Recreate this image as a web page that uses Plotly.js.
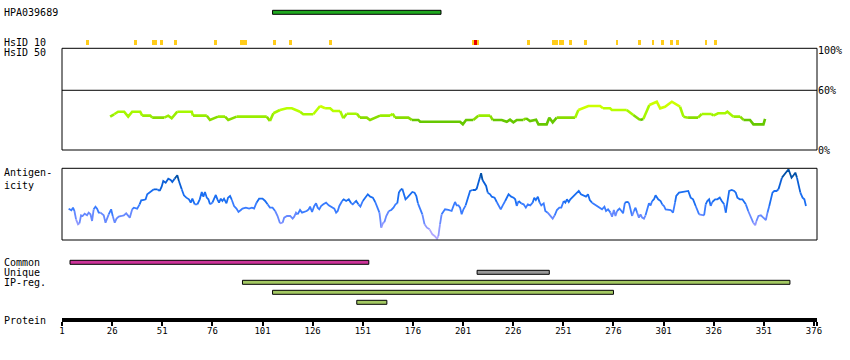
<!DOCTYPE html>
<html>
<head>
<meta charset="utf-8">
<script src="https://cdn.plot.ly/plotly-3.0.1.min.js"></script>
<style>html,body{margin:0;padding:0;background:#fff;}#chart{width:850px;height:360px;}</style>
</head>
<body>
<div id="chart"></div>
<script>
// ---------------- DATA ----------------
const residueTicks = [1,26,51,76,101,126,151,176,201,226,251,276,301,326,351,376];
const proteinEnd = 377.5;

const hpaName = 'HPA039689';
const hpaStart = [106];
const hpaEnd = [190];

const commonStart = [5];
const commonEnd = [154];
const uniqueStart = [208];
const uniqueEnd = [244];
const ipregStart = [91, 106, 148];
const ipregEnd = [364, 276, 163];

// HsID 10 identity marks (residue spans)
const hsid10Start = [13.0,36.9,45.9,49.9,56.9,76.8,89.8,106.2,114.2,134.2,205.5,232.9,245.2,249.0,253.9,261.4,277.2,288.4,295.1,299.8,304.4,307.4,321.5,326.3];
const hsid10End   = [14.3,38.3,48.2,51.2,58.3,78.2,93.1,107.6,115.6,135.5,208.9,234.3,248.5,251.4,255.2,262.8,278.5,289.8,296.4,301.1,305.7,308.7,322.8,327.7];
const hsid10RedStart = [206.5];
const hsid10RedEnd = [207.9];

// HsID 50 identity (%)
const hsidRes = [25,27,29,32,34,36,40,41,45,46,52,54,55.7,58.5,65.7,66.3,73.2,74.8,78.8,82.3,83.9,88.1,103.1,104.7,106.4,109.7,113.1,115.6,119.7,121.3,126.3,129.7,132.2,134.7,136.2,139.7,141.3,143,148,149.6,153,154.6,159.6,164.6,165.9,167.1,173.7,175.4,178.7,179.6,194.5,199.5,200.9,202.5,206.1,208.6,214.5,215.8,220.3,222.8,224.4,226.1,227.8,231.1,232.4,234.4,237.4,238.6,242.7,244,245.7,247.7,256.9,258.5,263.5,269.3,270.8,274.3,275.2,282.6,285.9,289.3,290.9,293.9,297.6,299.3,301.7,305.1,309.2,310.9,313.2,318.2,320,325,325.8,328.2,331.7,332.8,335.8,339.2,340.8,344.1,345.8,350.8,351.6];
const hsidPct = [33.5,35.9,38.5,38.5,33.5,38.5,38.5,34.5,34.5,32.5,32.5,34.5,31.9,38.5,38.5,34.5,34.5,30.2,33.5,33.5,30.2,33.5,33.5,29.1,36.9,40.2,41.9,41.9,38.5,35.9,35.9,44.2,41.9,41.9,39.2,39.2,31.9,36.5,36.5,32.5,32.5,30.2,34.5,34.5,36.5,32.5,32.5,30.2,30.2,28.4,28.4,28.4,25.8,30.2,30.2,34.5,34.5,30.2,30.2,28.4,30.5,27.8,30.2,30.2,31.9,29.1,30.5,25.8,25.8,32.5,27.8,32.5,32.5,40.2,44.2,44.2,41.9,41.9,40.2,40.2,35.2,30.2,31.2,45.2,48.5,41.9,43.5,48.5,43.5,33.5,32.5,32.5,36.2,36.2,34.5,36.9,36.9,38.5,33.5,33.5,30.2,30.2,25.8,25.8,31.2];

// Antigenicity score (arbitrary units)
const antRes = [4.3,5.7,6.5,7.2,8.0,9.0,9.7,10.5,11.3,12.3,13.5,14.3,15.2,16.0,16.8,17.7,18.5,19.3,20.2,21.0,21.8,22.7,23.5,24.3,25.5,26.3,27.3,28.2,29.3,30.7,31.8,33.0,34.0,34.8,36.0,36.8,38.5,39.7,40.5,41.8,42.7,43.5,45.2,46.8,48.5,49.7,50.7,51.5,52.7,54.0,55.2,56.0,57.2,58.5,59.3,60.7,61.8,63.0,64.3,65.2,66.0,67.2,68.5,69.7,70.7,71.5,72.3,73.2,74.0,74.8,76.0,76.8,77.7,78.5,79.3,80.2,81.0,81.8,83.0,83.8,84.8,85.7,86.8,88.0,89.0,90.2,91.0,92.7,94.3,95.7,96.8,98.0,99.3,101.0,102.3,103.5,104.7,106.0,107.3,108.5,109.7,111.0,111.8,113.2,114.8,116.0,116.8,117.7,118.5,119.7,120.7,121.8,123.0,124.0,124.7,125.7,126.8,127.7,128.5,129.3,130.2,131.3,132.7,134.0,135.2,136.0,136.8,137.7,138.5,139.3,140.7,141.5,142.7,144.0,145.2,146.0,146.8,147.7,148.8,149.8,151.0,152.3,153.5,154.7,156.0,157.2,158.5,159.3,160.2,161.0,161.8,162.7,164.0,165.2,166.3,167.3,168.2,169.0,169.8,170.7,171.5,172.3,173.2,174.3,175.7,176.8,177.7,178.5,179.7,180.7,181.8,183.0,184.3,185.7,186.8,188.0,188.7,189.5,190.3,191.2,192.0,193.7,195.3,196.2,197.0,197.8,198.7,199.5,200.3,201.2,202.3,203.3,204.5,205.7,207.0,207.8,208.7,209.5,210.0,210.7,211.5,212.5,213.3,214.5,215.3,216.7,217.8,219.0,219.8,220.8,222.0,223.7,225.0,226.2,227.0,227.8,228.7,230.0,231.2,232.3,233.3,234.5,235.7,236.5,237.3,238.3,239.2,240.0,241.2,242.0,243.2,244.5,245.7,246.7,247.8,249.0,250.0,251.2,252.0,252.8,253.7,254.5,255.3,256.7,257.8,258.7,259.8,261.2,262.3,263.3,264.2,265.3,266.7,267.8,269.0,270.3,271.5,272.3,273.3,274.5,275.3,276.2,277.0,277.8,279.0,280.0,280.8,281.7,282.8,283.7,284.5,285.3,286.2,287.0,287.8,288.7,289.5,290.3,291.2,292.0,292.8,293.7,294.5,295.3,296.2,297.0,298.3,299.5,300.3,301.2,302.0,303.3,304.5,305.7,306.7,307.3,308.7,310.3,312.0,313.3,314.5,315.7,317.0,318.7,320.3,321.2,322.0,322.8,323.7,324.5,325.3,326.7,327.8,329.0,330.0,331.2,332.0,333.7,335.0,336.2,337.0,337.8,339.0,340.3,342.0,343.2,344.5,345.7,346.7,347.3,348.3,349.5,350.7,352.0,352.8,353.7,354.5,355.3,356.2,357.3,358.3,359.2,360.0,361.2,362.0,362.8,363.3,364.0,364.8,365.8,366.7,367.5,368.3,369.2,370.3,371.2,372.0];
const antVal = [94,89,97,87,62,47,50,74,72,79,74,82,77,57,92,100,94,82,82,77,74,52,67,77,92,72,52,64,70,72,74,80,72,67,92,97,94,107,119,120,122,137,144,152,152,147,160,177,172,184,180,174,184,194,177,152,134,127,122,112,124,107,107,122,144,130,144,127,122,107,112,122,135,122,112,124,117,124,110,127,132,120,102,94,84,90,94,97,94,97,94,112,124,124,117,107,97,97,87,72,50,52,67,72,72,64,70,82,77,90,82,84,87,92,100,84,102,110,97,92,102,107,112,104,100,97,94,82,87,102,117,122,117,122,110,107,112,117,107,100,117,127,137,130,127,114,97,82,37,50,54,72,87,90,97,107,110,142,150,154,134,122,127,134,144,142,132,110,90,77,47,37,32,17,12,4,12,47,77,87,92,90,87,102,114,104,104,97,77,92,104,122,147,150,150,154,172,190,200,180,170,162,142,137,130,127,114,102,92,104,117,137,130,127,122,102,117,110,107,97,107,104,112,127,120,130,112,104,110,87,82,74,64,74,90,97,97,117,112,122,114,122,127,134,140,147,137,132,130,137,120,112,107,102,97,92,100,87,92,82,70,90,72,87,94,87,80,112,114,112,92,72,87,97,82,67,77,67,64,74,92,110,104,117,122,134,122,117,107,102,92,92,90,82,112,132,142,144,147,147,127,122,102,77,74,74,107,117,122,102,114,122,122,127,117,107,82,147,150,147,142,127,122,122,107,87,67,52,44,57,72,74,67,60,82,102,122,142,147,147,152,172,187,197,204,210,212,200,187,194,202,187,167,142,127,122,102];

// ---------------- STYLE HELPERS ----------------
const FONT = 'DejaVu Sans Mono, monospace';
function hsidColor(p){
  if (p >= 42) return '#ccff00';
  if (p >= 39) return '#b8ff00';
  if (p >= 35.5) return '#a6f800';
  if (p >= 33) return '#99ee00';
  if (p >= 31) return '#88dd00';
  return '#66c800';
}
function antColor(v){
  if (v >= 185) return '#0050a8';
  if (v >= 150) return '#0a5fd8';
  if (v >= 112) return '#1a6ef2';
  if (v >= 82) return '#3a7cff';
  if (v >= 55) return '#6689ff';
  if (v >= 28) return '#8f98ff';
  return '#b0a6ff';
}
function segTraces(xs, ys, colorFn, yaxis, width){
  const out = []; let cur = null;
  for (let i = 0; i < xs.length - 1; i++){
    const c = colorFn((ys[i] + ys[i+1]) / 2);
    if (!cur || cur.line.color !== c){
      cur = {type:'scatter', mode:'lines', x:[xs[i]], y:[ys[i]], xaxis:'x', yaxis:yaxis,
             line:{color:c, width:width}, hoverinfo:'skip', showlegend:false};
      out.push(cur);
    }
    cur.x.push(xs[i+1]); cur.y.push(ys[i+1]);
  }
  return out;
}
function barTrace(starts, ends, rows, color, thick, border){
  return {type:'bar', orientation:'h', xaxis:'x', yaxis:'y3',
    base: starts, x: starts.map((s,i)=>ends[i]-s), y: rows, width: rows.map(()=>thick),
    marker:{color:color, line:{color:'#000', width: border ? 1 : 0}},
    hoverinfo:'skip', showlegend:false};
}

// ---------------- TRACES ----------------
const traces = [];
traces.push(barTrace(hpaStart, hpaEnd, [12.3], '#1fa81f', 4, true));
traces.push(barTrace(hsid10Start, hsid10End, hsid10Start.map(()=>42.3), '#ffcc1a', 4.7, false));
traces.push(barTrace(hsid10RedStart, hsid10RedEnd, [42.3], '#e80000', 4.7, false));
traces.push(barTrace(commonStart, commonEnd, [262.3], '#cc3399', 4, true));
traces.push(barTrace(uniqueStart, uniqueEnd, [272.3], '#999999', 4, true));
traces.push(barTrace(ipregStart, ipregEnd, [282.3, 292.3, 302.3], '#a3c862', 4, true));
segTraces(hsidRes, hsidPct, hsidColor, 'y', 2.6).forEach(t=>traces.push(t));
segTraces(antRes, antVal, antColor, 'y2', 1.8).forEach(t=>traces.push(t));

// ---------------- LAYOUT ----------------
const W = 850, H = 360, L = 62, R = 817;
const px2py = p => 1 - p / H;
const px2x = p => (p - L) / (R - L);
function label(text, ypx){
  return {text:text, xref:'paper', yref:'paper', x:px2x(1.5), y:px2py(ypx), xanchor:'left', yanchor:'middle',
          align:'left', showarrow:false, font:{family:FONT, size:10, color:'#000'}};
}
const layout = {
  width:W, height:H, margin:{l:L, r:W-R, t:0, b:0}, paper_bgcolor:'#fff', plot_bgcolor:'rgba(0,0,0,0)',
  showlegend:false, barmode:'overlay', bargap:0,
  font:{family:FONT, size:10, color:'#000'},
  xaxis:{range:[1, proteinEnd], anchor:'free', position:px2py(320), showgrid:false, zeroline:false,
         showline:true, linewidth:4, linecolor:'#000', ticks:'outside', ticklen:4, tickwidth:2, tickcolor:'#000',
         ticklabelstandoff:-3,
         tickvals: residueTicks.concat([proteinEnd]), ticktext: residueTicks.map(String).concat(['']),
         tickfont:{family:FONT, size:9, color:'#000'}, fixedrange:true},
  yaxis:{domain:[px2py(150), px2py(48.3)], range:[0, 102.2], side:'right', anchor:'x', showgrid:false, zeroline:false,
         showline:false, ticks:'', tickvals:[0,60,100], ticktext:['0%','60%','100%'],
         tickfont:{family:FONT, size:10, color:'#000'}, fixedrange:true},
  yaxis2:{domain:[px2py(240), px2py(168.3)], range:[0, 215], anchor:'x', visible:false, fixedrange:true},
  yaxis3:{domain:[0, 1], range:[H, 0], anchor:'x', visible:false, fixedrange:true},
  shapes:[
    {type:'rect', xref:'x domain', yref:'y domain', x0:0, x1:1, y0:0, y1:1, line:{color:'#000', width:1}},
    {type:'line', xref:'x domain', yref:'y', x0:0, x1:1, y0:60, y1:60, line:{color:'#000', width:1}},
    {type:'rect', xref:'x domain', yref:'y2 domain', x0:0, x1:1, y0:0, y1:1, line:{color:'#000', width:1}}
  ],
  annotations:[
    label(hpaName, 12.5), label('HsID 10', 42.5), label('HsID 50', 52.8),
    label('Antigen-<br>icity', 178.5),
    label('Common', 262.5), label('Unique', 272.5), label('IP-reg.', 282.5), label('Protein', 320.3)
  ]
};
Plotly.newPlot('chart', traces, layout, {staticPlot:true, displayModeBar:false});
</script>
</body>
</html>
